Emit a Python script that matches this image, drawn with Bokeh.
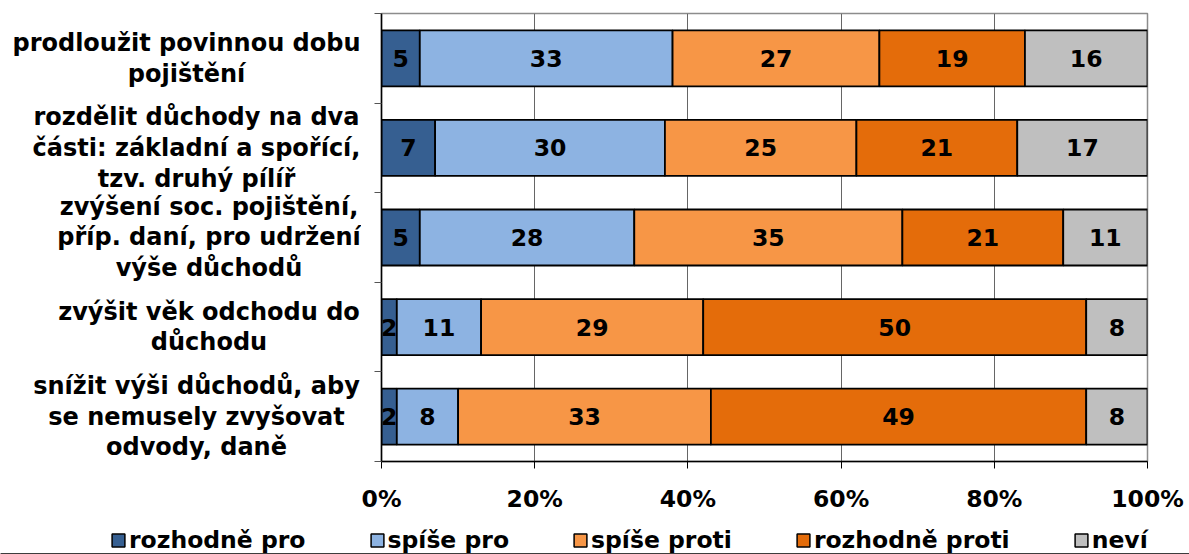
import numpy as np
from bokeh.plotting import figure
from bokeh.layouts import row, column
from bokeh.models import Range1d, FixedTicker, Legend, LegendItem, ColumnDataSource
from bokeh.core.properties import value
from bokeh.embed import file_html
from bokeh.resources import INLINE

# ---------------- data ----------------
categories = [
    "prodloužit povinnou dobu\npojištění",
    "rozdělit důchody na dva\nčásti: základní a spořící,\ntzv. druhý pílíř",
    "zvýšení soc. pojištění,\npříp. daní, pro udržení\nvýše důchodů",
    "zvýšit věk odchodu do\ndůchodu",
    "snížit výši důchodů, aby\nse nemusely zvyšovat\nodvody, daně",
]
series_names = ["rozhodně pro", "spíše pro", "spíše proti", "rozhodně proti", "neví"]
rozhodne_pro = [5, 7, 5, 2, 2]
spise_pro = [33, 30, 28, 11, 8]
spise_proti = [27, 25, 35, 29, 33]
rozhodne_proti = [19, 21, 21, 50, 49]
nevi = [16, 17, 11, 8, 8]
x_ticks = [0, 20, 40, 60, 80, 100]
x_tick_labels = ["0%", "20%", "40%", "60%", "80%", "100%"]

# ---------------- style / layout ----------------
colors = ["#365F91", "#8DB3E2", "#F79646", "#E46C0A", "#BFBFBF"]
FONT = "DejaVu Sans"
FS = "23.5px"
FS_CAT = "24px"
label_center_px = [186, 196, 208.5, 208.5, 196]  # horizontal centres of category labels (px)
TOTAL_W, TOTAL_H = 1189, 554
TOP_H = 518
LABEL_W = 361
CHART_W = TOTAL_W - LABEL_W
BORDER_TOP, BORDER_BOTTOM = 13, 57

n = len(categories)
ys = np.array([n - 0.5 - i for i in range(n)])
y_range = Range1d(0, n)

# ---- category labels panel ----
pl = figure(width=LABEL_W, height=TOP_H, output_backend="svg", toolbar_location=None,
            x_range=Range1d(0, LABEL_W), y_range=y_range,
            x_axis_type=None, y_axis_type=None,
            min_border_left=0, min_border_right=0,
            min_border_top=BORDER_TOP, min_border_bottom=BORDER_BOTTOM)
pl.outline_line_color = None
pl.grid.visible = False
pl.text(x=label_center_px, y=ys, text=categories, text_align="center",
        text_baseline="middle", text_font=value(FONT), text_font_style="bold",
        text_font_size=FS_CAT, text_color="black", text_line_height=1.1)

# ---- chart ----
p = figure(width=CHART_W, height=TOP_H, output_backend="svg", toolbar_location=None,
           x_range=Range1d(0, 100), y_range=y_range,
           min_border_left=20, min_border_right=42,
           min_border_top=BORDER_TOP, min_border_bottom=BORDER_BOTTOM)
p.outline_line_color = "#8c8c8c"
p.outline_line_width = 1.5

all_series = [rozhodne_pro, spise_pro, spise_proti, rozhodne_proti, nevi]
left = np.zeros(n)
for name, vals, col in zip(series_names, all_series, colors):
    vals = np.array(vals, dtype=float)
    right = left + vals
    src = ColumnDataSource(dict(y=ys, left=left, right=right, mid=(left + right) / 2,
                                txt=[str(int(v)) for v in vals]))
    p.hbar(y="y", left="left", right="right", height=0.625, source=src,
           fill_color=col, line_color="black", line_width=1.8)
    p.text(x="mid", y="y", text="txt", source=src, text_align="center",
           text_baseline="middle", text_font=value(FONT), text_font_style="bold",
           text_font_size=FS, text_color="black")
    left = right

p.ygrid.visible = False
p.xgrid.ticker = FixedTicker(ticks=x_ticks)
p.xgrid.grid_line_color = "#666666"
p.xgrid.grid_line_width = 1

xa = p.xaxis[0]
xa.ticker = FixedTicker(ticks=x_ticks)
xa.major_label_overrides = {t: l for t, l in zip(x_ticks, x_tick_labels)}
xa.major_tick_out = 7
xa.major_tick_in = 0
xa.minor_tick_line_color = None
xa.axis_line_color = "black"
xa.axis_line_width = 1.5
xa.major_tick_line_color = "black"
xa.major_label_text_font = FONT
xa.major_label_text_font_style = "bold"
xa.major_label_text_font_size = FS
xa.major_label_text_color = "black"
xa.major_label_standoff = 16

ya = p.yaxis[0]
ya.ticker = FixedTicker(ticks=list(range(n + 1)))
ya.major_tick_out = 7
ya.major_tick_in = 0
ya.minor_tick_line_color = None
ya.axis_line_color = "black"
ya.axis_line_width = 1.5
ya.major_tick_line_color = "#555555"
ya.major_label_text_font_size = "0px"
ya.major_label_text_color = None
ya.major_label_standoff = 0

# ---- legend strip ----
pg = figure(width=TOTAL_W, height=TOTAL_H - TOP_H, output_backend="svg",
            toolbar_location=None, x_range=Range1d(0, 1), y_range=Range1d(0, 1),
            x_axis_type=None, y_axis_type=None,
            min_border_left=0, min_border_right=0, min_border_top=0, min_border_bottom=0)
pg.outline_line_color = None
pg.grid.visible = False
items = []
for name, col in zip(series_names, colors):
    # proxy renderer (placed outside the visible range) so the legend shows a swatch
    r = pg.hbar(y=[-5], left=[0], right=[1], height=0.5, fill_color=col,
                line_color="black", line_width=1.5)
    items.append(LegendItem(label=name, renderers=[r]))
legend = Legend(items=items, orientation="horizontal", location=(110, 0),
                glyph_width=16, glyph_height=16, label_standoff=3, spacing=63,
                padding=0, margin=0, border_line_color=None,
                background_fill_alpha=0,
                label_text_font=FONT, label_text_font_style="bold",
                label_text_font_size=FS, label_text_color="black")
pg.add_layout(legend, "center")

layout = column(row(pl, p), pg)
open("out.html", "w").write(file_html(layout, INLINE))
